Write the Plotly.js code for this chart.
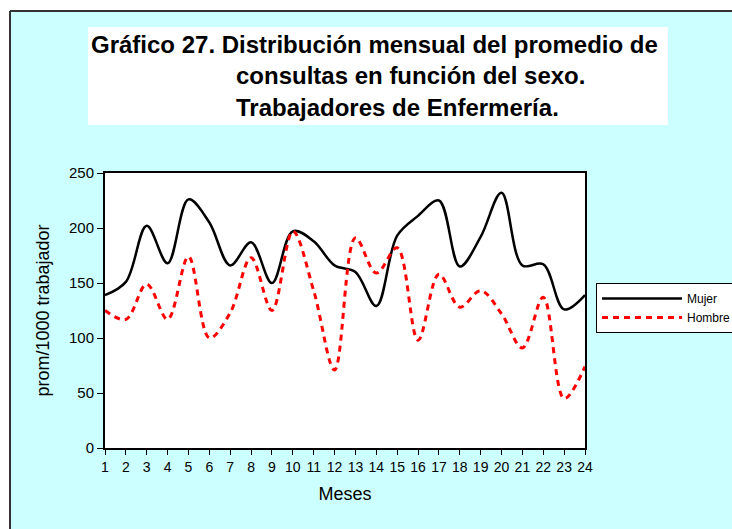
<!DOCTYPE html>
<html>
<head>
<meta charset="utf-8">
<script src="https://cdn.plot.ly/plotly-3.0.1.min.js"></script>
<style>html,body{margin:0;padding:0;background:#fff;}#chart{width:732px;height:529px;}</style>
</head>
<body>
<div id="chart"></div>
<script>
var meses = [1,2,3,4,5,6,7,8,9,10,11,12,13,14,15,16,17,18,19,20,21,22,23,24];
var mujer = [139,151,202,168,226,205,166,187,150,197,188,166,160,129,193,211,225,165,192,232,166,167,126,139];
var hombre = [125,117,149,117,174,100,123,173,125,197,143,71,191,159,182,98,158,128,143,122,91,137,45,74];
var yTicks = [0,50,100,150,200,250];
var titleLines = ["Gráfico 27. Distribución mensual del promedio de","consultas en función del sexo.","Trabajadores de Enfermería."];

var L = 105, R = 585, T = 173, B = 448;
function px(x){ return (x - L) / (R - L); }
function py(y){ return (B - y) / (B - T); }

var traces = [
  {x: meses, y: mujer, name: 'Mujer', type: 'scatter', mode: 'lines',
   line: {color: '#000000', width: 2.5, shape: 'spline', smoothing: 1}},
  {x: meses, y: hombre, name: 'Hombre', type: 'scatter', mode: 'lines',
   line: {color: '#FF0000', width: 3, dash: '6px,5px', shape: 'spline', smoothing: 1}}
];

var font = 'Liberation Sans, Arial, sans-serif';
var layout = {
  width: 732, height: 529,
  margin: {l: L, r: 732 - R, t: T, b: 529 - B, pad: 0, autoexpand: false},
  paper_bgcolor: '#CCFFFF',
  plot_bgcolor: '#FFFFFF',
  font: {family: font, color: '#000'},
  showlegend: true,
  legend: {x: px(596), y: py(283), xanchor: 'left', yanchor: 'top',
           bgcolor: '#FFFFFF', bordercolor: '#000', borderwidth: 1,
           font: {family: font, size: 12, color: '#000'},
           itemwidth: 80, tracegroupgap: 0},
  xaxis: {range: [1, 24], tickmode: 'array', tickvals: meses, ticktext: meses.map(String),
          showgrid: false, zeroline: false, showline: true, linecolor: '#000', linewidth: 2,
          mirror: true, ticks: 'outside', ticklen: 5, tickcolor: '#000', tickwidth: 1,
          tickfont: {size: 14, family: font}, fixedrange: true,
          title: {text: 'Meses', font: {size: 18, family: font}, standoff: 14}},
  yaxis: {range: [0, 250], tickmode: 'array', tickvals: yTicks, ticktext: yTicks.map(String),
          showgrid: false, zeroline: false, showline: true, linecolor: '#000', linewidth: 2,
          mirror: true, ticks: 'outside', ticklen: 6, tickcolor: '#000', tickwidth: 1,
          tickfont: {size: 15, family: font}, fixedrange: true,
          title: {text: 'prom/1000 trabajador', font: {size: 18, family: font}, standoff: 15}},
  shapes: [
    {type: 'rect', xref: 'paper', yref: 'paper', x0: px(0), x1: px(760), y0: py(0), y1: py(10),
     fillcolor: '#FFFFFF', line: {width: 0}, layer: 'below'},
    {type: 'rect', xref: 'paper', yref: 'paper', x0: px(0), x1: px(9), y0: py(0), y1: py(560),
     fillcolor: '#FFFFFF', line: {width: 0}, layer: 'below'},
    {type: 'line', xref: 'paper', yref: 'paper', x0: px(10), x1: px(760), y0: py(11), y1: py(11),
     line: {color: '#333', width: 2}},
    {type: 'line', xref: 'paper', yref: 'paper', x0: px(10), x1: px(10), y0: py(11), y1: py(560),
     line: {color: '#333', width: 2}},
    {type: 'rect', xref: 'paper', yref: 'paper', x0: px(88), x1: px(668), y0: py(27), y1: py(125),
     fillcolor: '#FFFFFF', line: {width: 0}, layer: 'below'}
  ],
  annotations: [
    {text: '<b>' + titleLines[0] + '</b>', xref: 'paper', yref: 'paper', x: px(89), y: py(44),
     xanchor: 'left', yanchor: 'middle', showarrow: false, font: {size: 24, family: font}},
    {text: '<b>' + titleLines[1] + '</b>', xref: 'paper', yref: 'paper', x: px(234), y: py(76),
     xanchor: 'left', yanchor: 'middle', showarrow: false, font: {size: 24, family: font}},
    {text: '<b>' + titleLines[2] + '</b>', xref: 'paper', yref: 'paper', x: px(234), y: py(107),
     xanchor: 'left', yanchor: 'middle', showarrow: false, font: {size: 24, family: font}}
  ]
};

Plotly.newPlot('chart', traces, layout, {staticPlot: true, displayModeBar: false});
</script>
</body>
</html>
